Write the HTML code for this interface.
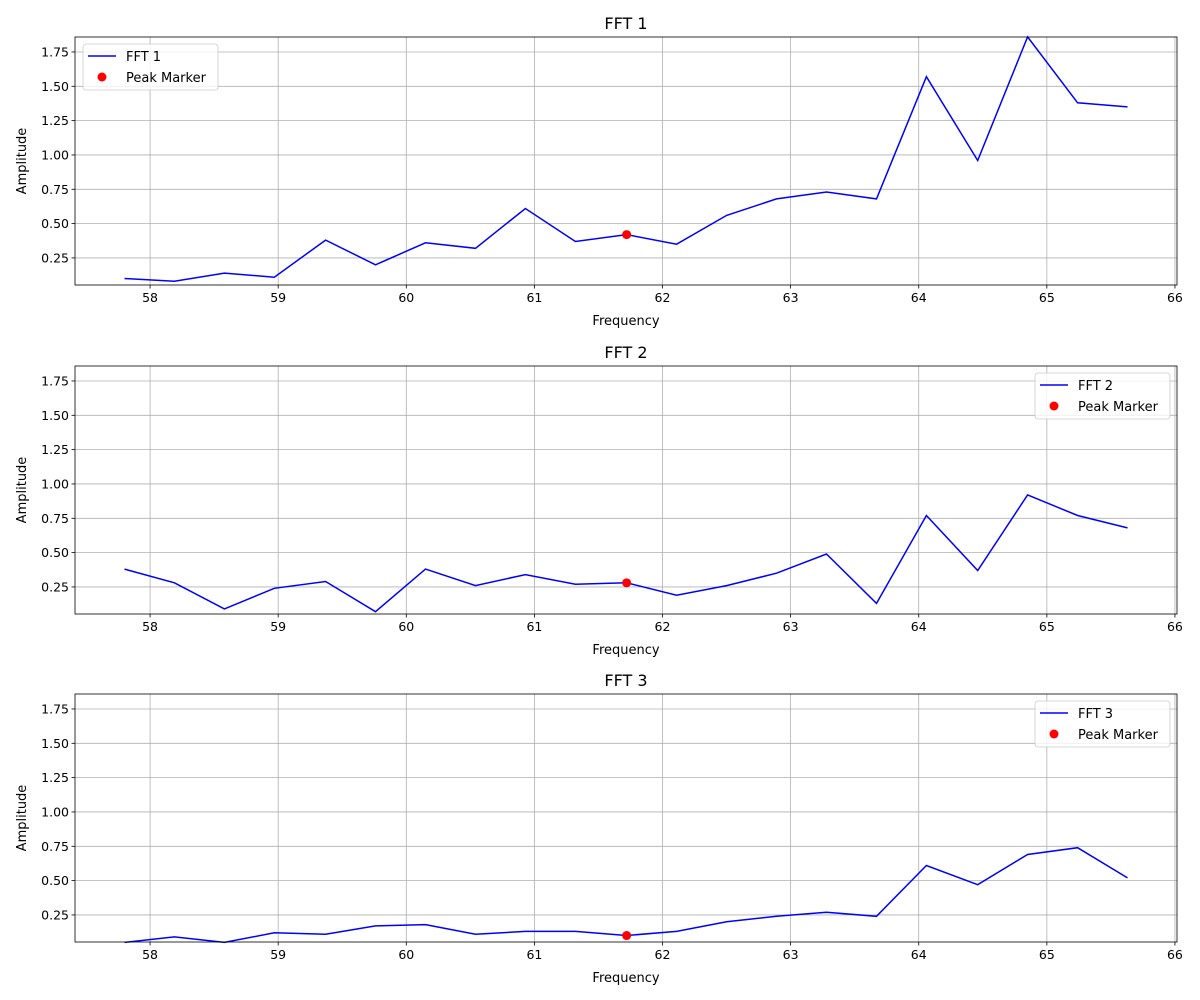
<!DOCTYPE html>
<html><head><meta charset="utf-8"><style>
body{margin:0;background:#fff}
svg{display:block;font-family:"DejaVu Sans","Liberation Sans",sans-serif}
</style></head><body>
<svg id="chart" width="1200" height="1000" viewBox="0 0 1200 1000" xmlns="http://www.w3.org/2000/svg"></svg>
<script>
const freqs = [57.80,58.19,58.58,58.97,59.37,59.76,60.15,60.54,60.93,61.32,61.72,62.11,62.50,62.89,63.28,63.67,64.06,64.46,64.85,65.24,65.63];
const fft1 = [0.10,0.08,0.14,0.11,0.38,0.20,0.36,0.32,0.61,0.37,0.42,0.35,0.56,0.68,0.73,0.68,1.57,0.96,1.86,1.38,1.35];
const fft2 = [0.38,0.28,0.09,0.24,0.29,0.07,0.38,0.26,0.34,0.27,0.28,0.19,0.26,0.35,0.49,0.13,0.77,0.37,0.92,0.77,0.68];
const fft3 = [0.05,0.09,0.05,0.12,0.11,0.17,0.18,0.11,0.13,0.13,0.10,0.13,0.20,0.24,0.27,0.24,0.61,0.47,0.69,0.74,0.52];
const peakIndex = 10;
const xTicks = [58,59,60,61,62,63,64,65,66];
const yTicks = [0.25,0.50,0.75,1.00,1.25,1.50,1.75];
const yTickLabels = ["0.25","0.50","0.75","1.00","1.25","1.50","1.75"];
const panels = [{name:"FFT 1",data:fft1,top:37,legend:"left"},{name:"FFT 2",data:fft2,top:366,legend:"right"},{name:"FFT 3",data:fft3,top:694,legend:"right"}];

const NS="http://www.w3.org/2000/svg";
const svg=document.getElementById('chart');
const L=75,R=1177,H=248;
const xMin=57.414,xMax=66.016,yMin=0.053,yMax=1.859;
function xs(v){return L+(v-xMin)/(xMax-xMin)*(R-L);}
function mk(tag,attrs,parent,text){const e=document.createElementNS(NS,tag);for(const k in attrs)e.setAttribute(k,attrs[k]);if(text!==undefined)e.textContent=text;(parent||svg).appendChild(e);return e;}

panels.forEach((p,pi)=>{
  const T=p.top,B=T+H;
  const ys=v=>B-(v-yMin)/(yMax-yMin)*H;
  const g=mk('g',{});
  
  
  xTicks.forEach(t=>{const x=xs(t);
    const gl=mk('line',{x1:x,x2:x,y1:T,y2:B,stroke:'#b0b0b0','stroke-width':0.8},g);
    
    mk('line',{x1:x,x2:x,y1:B,y2:B+3.5,stroke:'#000','stroke-width':0.8},g);
    const tl=mk('text',{x:x,y:B+17,'font-size':12.5,'text-anchor':'middle'},g,String(t));
    
  });
  yTicks.forEach((t,i)=>{const y=ys(t);
    const gl=mk('line',{x1:L,x2:R,y1:y,y2:y,stroke:'#b0b0b0','stroke-width':0.8},g);
    
    mk('line',{x1:L-3.5,x2:L,y1:y,y2:y,stroke:'#000','stroke-width':0.8},g);
    const tl=mk('text',{x:L-6,y:y+4.5,'font-size':12.5,'text-anchor':'end'},g,yTickLabels[i]);
    
  });
  const pts=p.data.map((v,i)=>xs(freqs[i]).toFixed(1)+','+ys(v).toFixed(1)).join(' ');
  const line=mk('polyline',{points:pts,fill:'none',stroke:'#0000ff','stroke-width':1.5},g);
  
  const pk=mk('circle',{cx:xs(freqs[peakIndex]),cy:ys(p.data[peakIndex]),r:4.5,fill:'#ff0000'},g);
  
  const fr=mk('rect',{x:L,y:T,width:R-L,height:H,fill:'none',stroke:'#000','stroke-width':0.8},g);
  
  const ti=mk('text',{x:(L+R)/2,y:T-8,'font-size':16,'text-anchor':'middle'},g,p.name);
  
  const xl=mk('text',{x:(L+R)/2,y:B+40,'font-size':13,'text-anchor':'middle'},g,'Frequency');
  
  const yl=mk('text',{x:0,y:0,'font-size':13,'text-anchor':'middle',transform:`translate(26,${(T+B)/2}) rotate(-90)`},g,'Amplitude');
  
  const lx=p.legend==='left'?83:1035, ly=T+7;
  const lg=mk('g',{},g);
  
  mk('rect',{x:lx,y:ly,width:135,height:46,rx:3,fill:'#fff','fill-opacity':0.8,stroke:'#ccc','stroke-width':0.8},lg);
  mk('line',{x1:lx+5,x2:lx+33,y1:ly+12,y2:ly+12,stroke:'#0000ff','stroke-width':1.5},lg);
  const e1=mk('text',{x:lx+43,y:ly+17,'font-size':13},lg,p.name);
  
  mk('circle',{cx:lx+19,cy:ly+33,r:4.5,fill:'#ff0000'},lg);
  const e2=mk('text',{x:lx+43,y:ly+38,'font-size':13},lg,'Peak Marker');
  
});
</script>
</body></html>
